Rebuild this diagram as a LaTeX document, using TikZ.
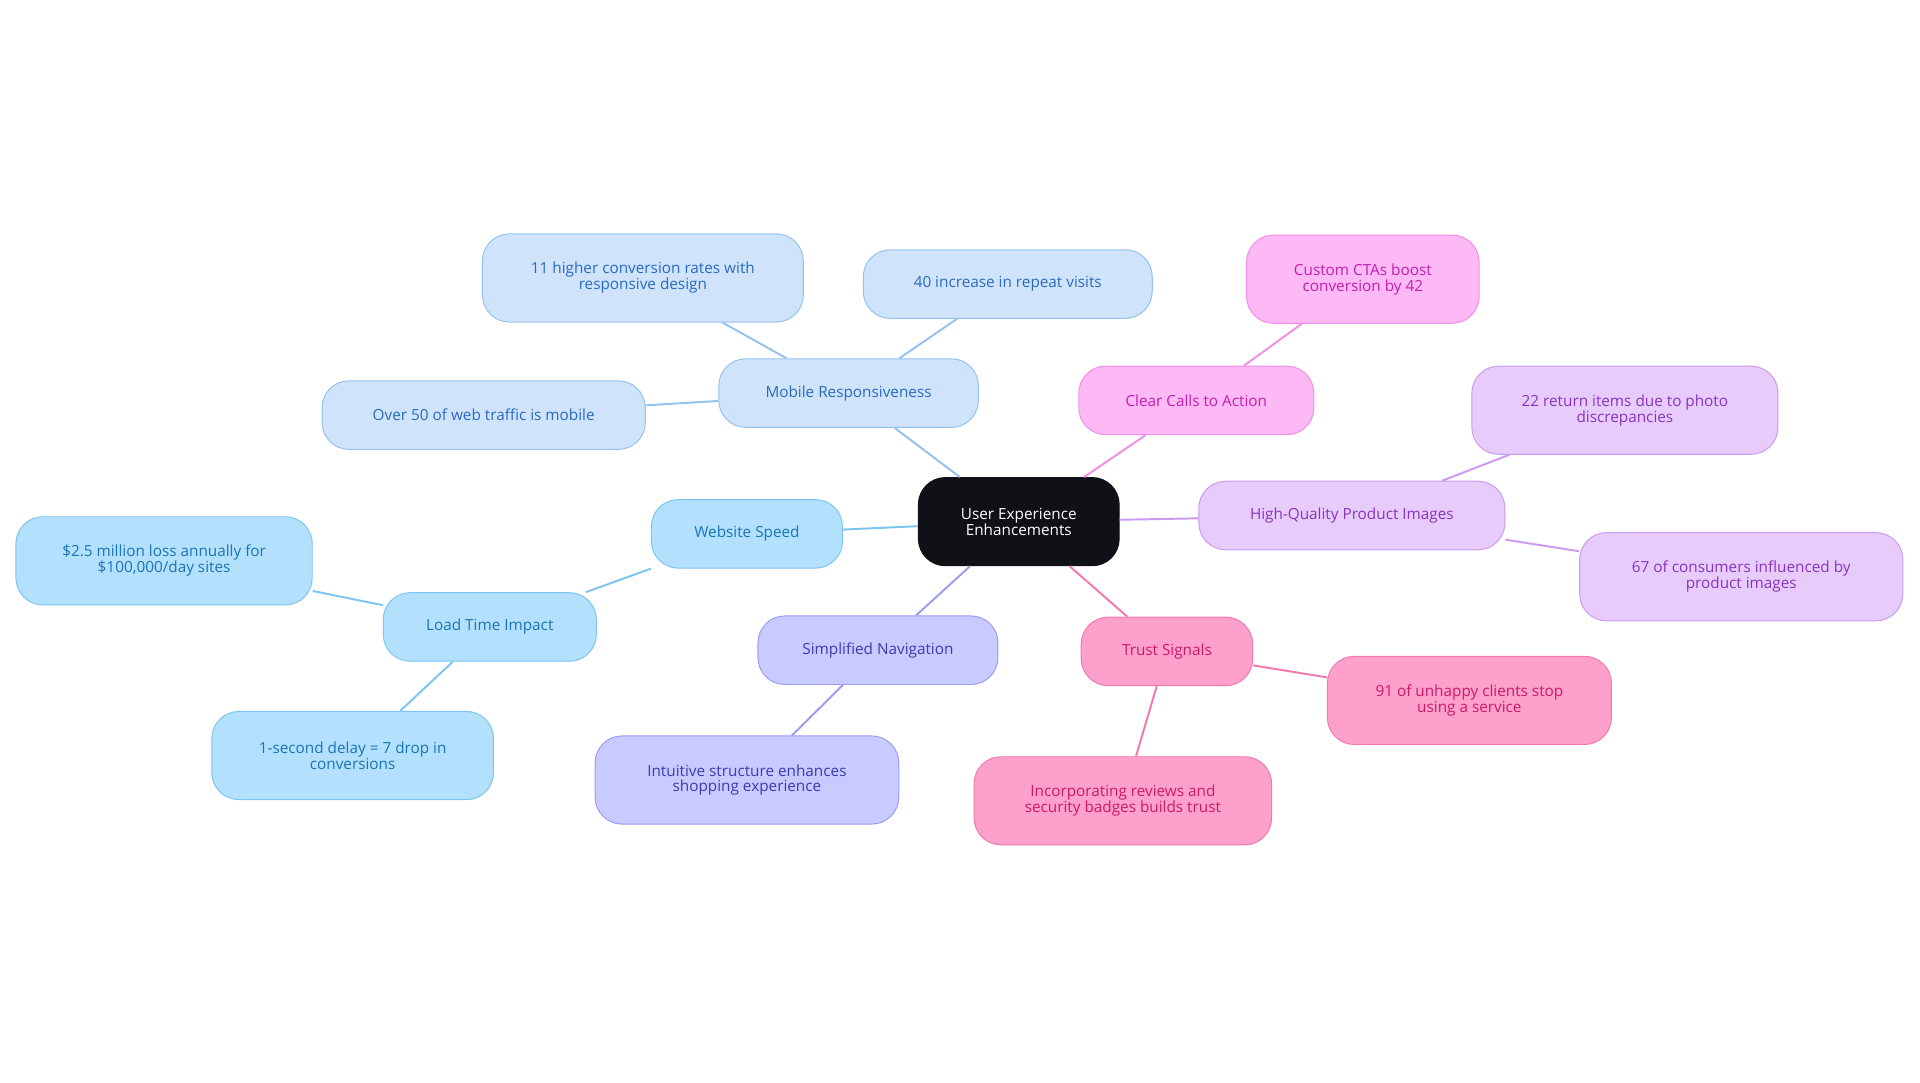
\documentclass[tikz,border=0pt]{standalone}
\usepackage{fontspec}
\setmainfont{Open Sans}
\begin{document}
\begin{tikzpicture}[x=1pt,y=-1pt,
 base/.style={rounded corners=22pt,draw,line width=0.8pt,align=center,font=\fontsize{12.5}{13}\selectfont,inner sep=0pt},
 bs/.style={base,fill=spF,draw=spD,text=spT},
 ms/.style={base,fill=mrF,draw=mrD,text=mrT},
 ns/.style={base,fill=snF,draw=snD,text=snT},
 cs/.style={base,fill=ccF,draw=ccD,text=ccT},
 hs/.style={base,fill=hqF,draw=hqD,text=hqT},
 ts/.style={base,fill=tsF,draw=tsD,text=tsT},
 e/.style={line width=1.6pt}]
\definecolor{spF}{HTML}{B3E0FC}\definecolor{spD}{HTML}{7CC4F2}\definecolor{spT}{HTML}{1A75B8}
\definecolor{mrF}{HTML}{CFE3FB}\definecolor{mrD}{HTML}{94C1F0}\definecolor{mrT}{HTML}{2A6BBF}
\definecolor{snF}{HTML}{C9CAFF}\definecolor{snD}{HTML}{9A9CF2}\definecolor{snT}{HTML}{3B3BB5}
\definecolor{ccF}{HTML}{FDB8F6}\definecolor{ccD}{HTML}{F28EE8}\definecolor{ccT}{HTML}{C21FB0}
\definecolor{hqF}{HTML}{E6CBFB}\definecolor{hqD}{HTML}{CC9AF0}\definecolor{hqT}{HTML}{8A34C0}
\definecolor{tsF}{HTML}{FDA0CB}\definecolor{tsD}{HTML}{F07AB0}\definecolor{tsT}{HTML}{CC1A6A}
\definecolor{ctr}{HTML}{0F1117}
\useasboundingbox (0,0) rectangle (1568,884);
\node[base,fill=ctr,draw=ctr,text=white,minimum width=164pt,minimum height=72pt] (c) at (832,426) {User Experience\\Enhancements};
\node[bs,minimum width=156pt,minimum height=56pt] (ws) at (610,436) {Website Speed};
\node[bs,minimum width=174pt,minimum height=56pt] (lt) at (400,512) {Load Time Impact};
\node[bs,minimum width=242pt,minimum height=72pt] (l1) at (134,458) {\$2.5 million loss annually for\\\$100,000/day sites};
\node[bs,minimum width=230pt,minimum height=72pt] (l2) at (288,617) {1-second delay = 7 drop in\\conversions};
\node[ms,minimum width=212pt,minimum height=56pt] (mr) at (693,321) {Mobile Responsiveness};
\node[ms,minimum width=262pt,minimum height=72pt] (m1) at (525,227) {11 higher conversion rates with\\responsive design};
\node[ms,minimum width=236pt,minimum height=56pt] (m2) at (823,232) {40 increase in repeat visits};
\node[ms,minimum width=264pt,minimum height=56pt] (m3) at (395,339) {Over 50 of web traffic is mobile};
\node[ns,minimum width=196pt,minimum height=56pt] (sn) at (717,531) {Simplified Navigation};
\node[ns,minimum width=248pt,minimum height=72pt] (s1) at (610,637) {Intuitive structure enhances\\shopping experience};
\node[cs,minimum width=192pt,minimum height=56pt] (cc) at (977,327) {Clear Calls to Action};
\node[cs,minimum width=190pt,minimum height=72pt] (c1) at (1113,228) {Custom CTAs boost\\conversion by 42};
\node[hs,minimum width=250pt,minimum height=56pt] (hq) at (1104,421) {High-Quality Product Images};
\node[hs,minimum width=250pt,minimum height=72pt] (h1) at (1327,335) {22 return items due to photo\\discrepancies};
\node[hs,minimum width=264pt,minimum height=72pt] (h2) at (1422,471) {67 of consumers influenced by\\product images};
\node[ts,minimum width=140pt,minimum height=56pt] (tr) at (953,532) {Trust Signals};
\node[ts,minimum width=232pt,minimum height=72pt] (t1) at (1200,572) {91 of unhappy clients stop\\using a service};
\node[ts,minimum width=243pt,minimum height=72pt] (t2) at (917,654) {Incorporating reviews and\\security badges builds trust};
\begin{scope}[on background layer/.style={}]
\end{scope}
\begin{pgfonlayer}{main}\end{pgfonlayer}
\draw[e,draw=spD,shorten <=0pt] (c) -- (ws); \draw[e,draw=spD] (ws) -- (lt);
\draw[e,draw=spD] (lt) -- (l1); \draw[e,draw=spD] (lt) -- (l2);
\draw[e,draw=mrD] (c) -- (mr); \draw[e,draw=mrD] (mr) -- (m1);
\draw[e,draw=mrD] (mr) -- (m2); \draw[e,draw=mrD] (mr) -- (m3);
\draw[e,draw=snD] (c) -- (sn); \draw[e,draw=snD] (sn) -- (s1);
\draw[e,draw=ccD] (c) -- (cc); \draw[e,draw=ccD] (cc) -- (c1);
\draw[e,draw=hqD] (c) -- (hq); \draw[e,draw=hqD] (hq) -- (h1); \draw[e,draw=hqD] (hq) -- (h2);
\draw[e,draw=tsD] (c) -- (tr); \draw[e,draw=tsD] (tr) -- (t1); \draw[e,draw=tsD] (tr) -- (t2);
\end{tikzpicture}
\end{document}
